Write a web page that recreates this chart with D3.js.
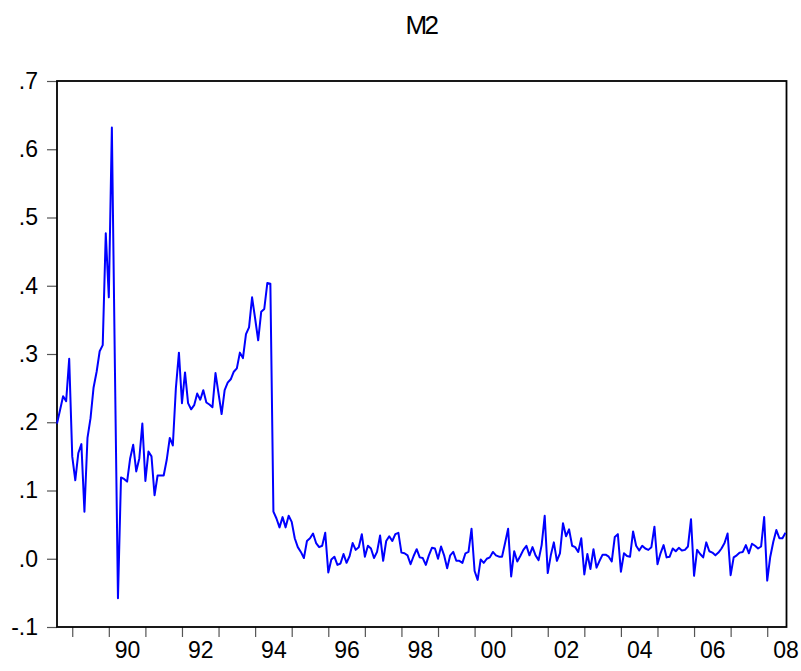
<!DOCTYPE html>
<html>
<head>
<meta charset="utf-8">
<script src="https://cdn.jsdelivr.net/npm/d3@7/dist/d3.min.js"></script>
<style>
  html, body { margin: 0; padding: 0; background: #fff; }
  svg { display: block; }
  text { font-family: "Liberation Sans", Arial, sans-serif; fill: #000; }
</style>
</head>
<body>
<svg id="chart" width="801" height="671"></svg>
<script>
// Monthly M2 series, first observation 1988M08
const title = "M2";
const startYear = 1988;
const startMonth = 8; // August
const m2Values = [
  0.198, 0.218, 0.238, 0.231, 0.293, 0.150, 0.115, 0.155, 0.168, 0.069,
  0.177, 0.206, 0.251, 0.274, 0.304, 0.313, 0.477, 0.383, 0.632, 0.280,
  -0.058, 0.119, 0.117, 0.113, 0.147, 0.167, 0.128, 0.147, 0.198, 0.114,
  0.157, 0.150, 0.093, 0.122, 0.122, 0.122, 0.145, 0.177, 0.166, 0.250,
  0.302, 0.228, 0.273, 0.228, 0.219, 0.225, 0.242, 0.233, 0.247, 0.229,
  0.226, 0.222, 0.272, 0.242, 0.212, 0.247, 0.258, 0.263, 0.274, 0.279,
  0.302, 0.294, 0.329, 0.339, 0.383, 0.352, 0.320, 0.362, 0.366, 0.404,
  0.403, 0.069, 0.059, 0.046, 0.061, 0.046, 0.063, 0.054, 0.030, 0.017,
  0.010, 0.001, 0.026, 0.030, 0.037, 0.023, 0.017, 0.019, 0.038, -0.020,
  -0.001, 0.003, -0.009, -0.007, 0.007, -0.006, 0.004, 0.023, 0.013, 0.017,
  0.036, 0.003, 0.019, 0.015, 0.001, 0.010, 0.034, -0.003, 0.026, 0.033,
  0.026, 0.036, 0.038, 0.009, 0.008, 0.005, -0.008, 0.004, 0.014, 0.002,
  0.001, -0.009, 0.005, 0.016, 0.015, 0.000, 0.018, 0.005, -0.014, 0.005,
  0.010, -0.003, -0.003, -0.006, 0.008, 0.010, 0.044, -0.018, -0.031, -0.001,
  -0.006, 0.000, 0.002, 0.010, 0.005, 0.003, 0.003, 0.023, 0.044, -0.026,
  0.011, -0.004, 0.004, 0.013, 0.019, 0.005, 0.017, 0.005, -0.002, 0.020,
  0.063, -0.021, 0.005, 0.024, -0.003, 0.008, 0.052, 0.033, 0.043, 0.019,
  0.017, 0.010, 0.030, -0.023, 0.007, -0.015, 0.014, -0.013, -0.003, 0.006,
  0.006, 0.003, -0.004, 0.032, 0.036, -0.019, 0.008, 0.004, 0.003, 0.040,
  0.019, 0.012, 0.019, 0.015, 0.013, 0.017, 0.047, -0.008, 0.008, 0.020,
  0.002, 0.003, 0.015, 0.011, 0.016, 0.012, 0.013, 0.018, 0.058, -0.025,
  0.013, 0.007, 0.002, 0.024, 0.011, 0.009, 0.005, 0.009, 0.015, 0.023,
  0.037, -0.024, 0.002, 0.005, 0.009, 0.010, 0.020, 0.008, 0.022, 0.019,
  0.015, 0.018, 0.061, -0.032, 0.003, 0.025, 0.042, 0.030, 0.030, 0.038
];
const yTicks = [-0.1, 0.0, 0.1, 0.2, 0.3, 0.4, 0.5, 0.6, 0.7];
const yearTicks = d3.range(1989, 2009);            // tick marks at each January
const yearLabels = [1990, 1992, 1994, 1996, 1998, 2000, 2002, 2004, 2006, 2008];

// observation time as fractional year
const series = m2Values.map((v, i) => ({
  t: startYear + (startMonth - 1 + i) / 12,
  v: v
}));

const svg = d3.select("#chart");
const plot = { left: 57, right: 785.5, top: 81, bottom: 627 };

const x = d3.scaleLinear()
  .domain([series[0].t, series[series.length - 1].t])
  .range([plot.left, plot.right]);
const y = d3.scaleLinear()
  .domain([-0.1, 0.7])
  .range([plot.bottom, plot.top]);

// title
svg.append("text")
  .attr("x", 421).attr("y", 34)
  .attr("text-anchor", "middle")
  .style("font-size", "26px")
  .style("letter-spacing", "-2.5px")
  .text(title);

// y axis: ticks outward, labels like ".3" and "-.1" (no leading zero)
const fmtY = v => (v < 0 ? "-" : "") + Math.abs(v).toFixed(1).replace(/^0\./, ".");
const yAxis = svg.append("g")
  .attr("transform", `translate(${plot.left},0)`)
  .call(d3.axisLeft(y).tickValues(yTicks).tickFormat(fmtY).tickSize(10).tickSizeOuter(0).tickPadding(9));
yAxis.select(".domain").remove();
yAxis.selectAll("line").attr("stroke", "#555").attr("stroke-width", 1.2);
yAxis.selectAll("text").style("font-size", "23px").attr("fill", "#000");

// x axis: tick marks at year starts
const xAxis = svg.append("g")
  .attr("transform", `translate(0,${plot.bottom})`)
  .call(d3.axisBottom(x).tickValues(yearTicks).tickFormat("").tickSize(10).tickSizeOuter(0));
xAxis.select(".domain").remove();
xAxis.selectAll("line").attr("stroke", "#555").attr("stroke-width", 1.2);

// x labels centred within each labelled year
const xLab = svg.append("g")
  .attr("transform", `translate(0,${plot.bottom})`)
  .call(d3.axisBottom(x).tickValues(yearLabels.map(yr => yr + 0.5))
    .tickFormat(t => String(Math.floor(t) % 100).padStart(2, "0"))
    .tickSize(0).tickPadding(15));
xLab.select(".domain").remove();
xLab.selectAll("text").style("font-size", "23px").attr("fill", "#000");

// frame
svg.append("rect")
  .attr("x", plot.left).attr("y", plot.top)
  .attr("width", plot.right - plot.left + 1).attr("height", plot.bottom - plot.top)
  .attr("fill", "none").attr("stroke", "#000").attr("stroke-width", 1.8);

// series line
const line = d3.line().x(d => x(d.t)).y(d => y(d.v));
svg.append("path")
  .datum(series)
  .attr("fill", "none")
  .attr("stroke", "#0000ff")
  .attr("stroke-width", 2)
  .attr("stroke-linejoin", "round")
  .attr("d", line);
</script>
</body>
</html>
